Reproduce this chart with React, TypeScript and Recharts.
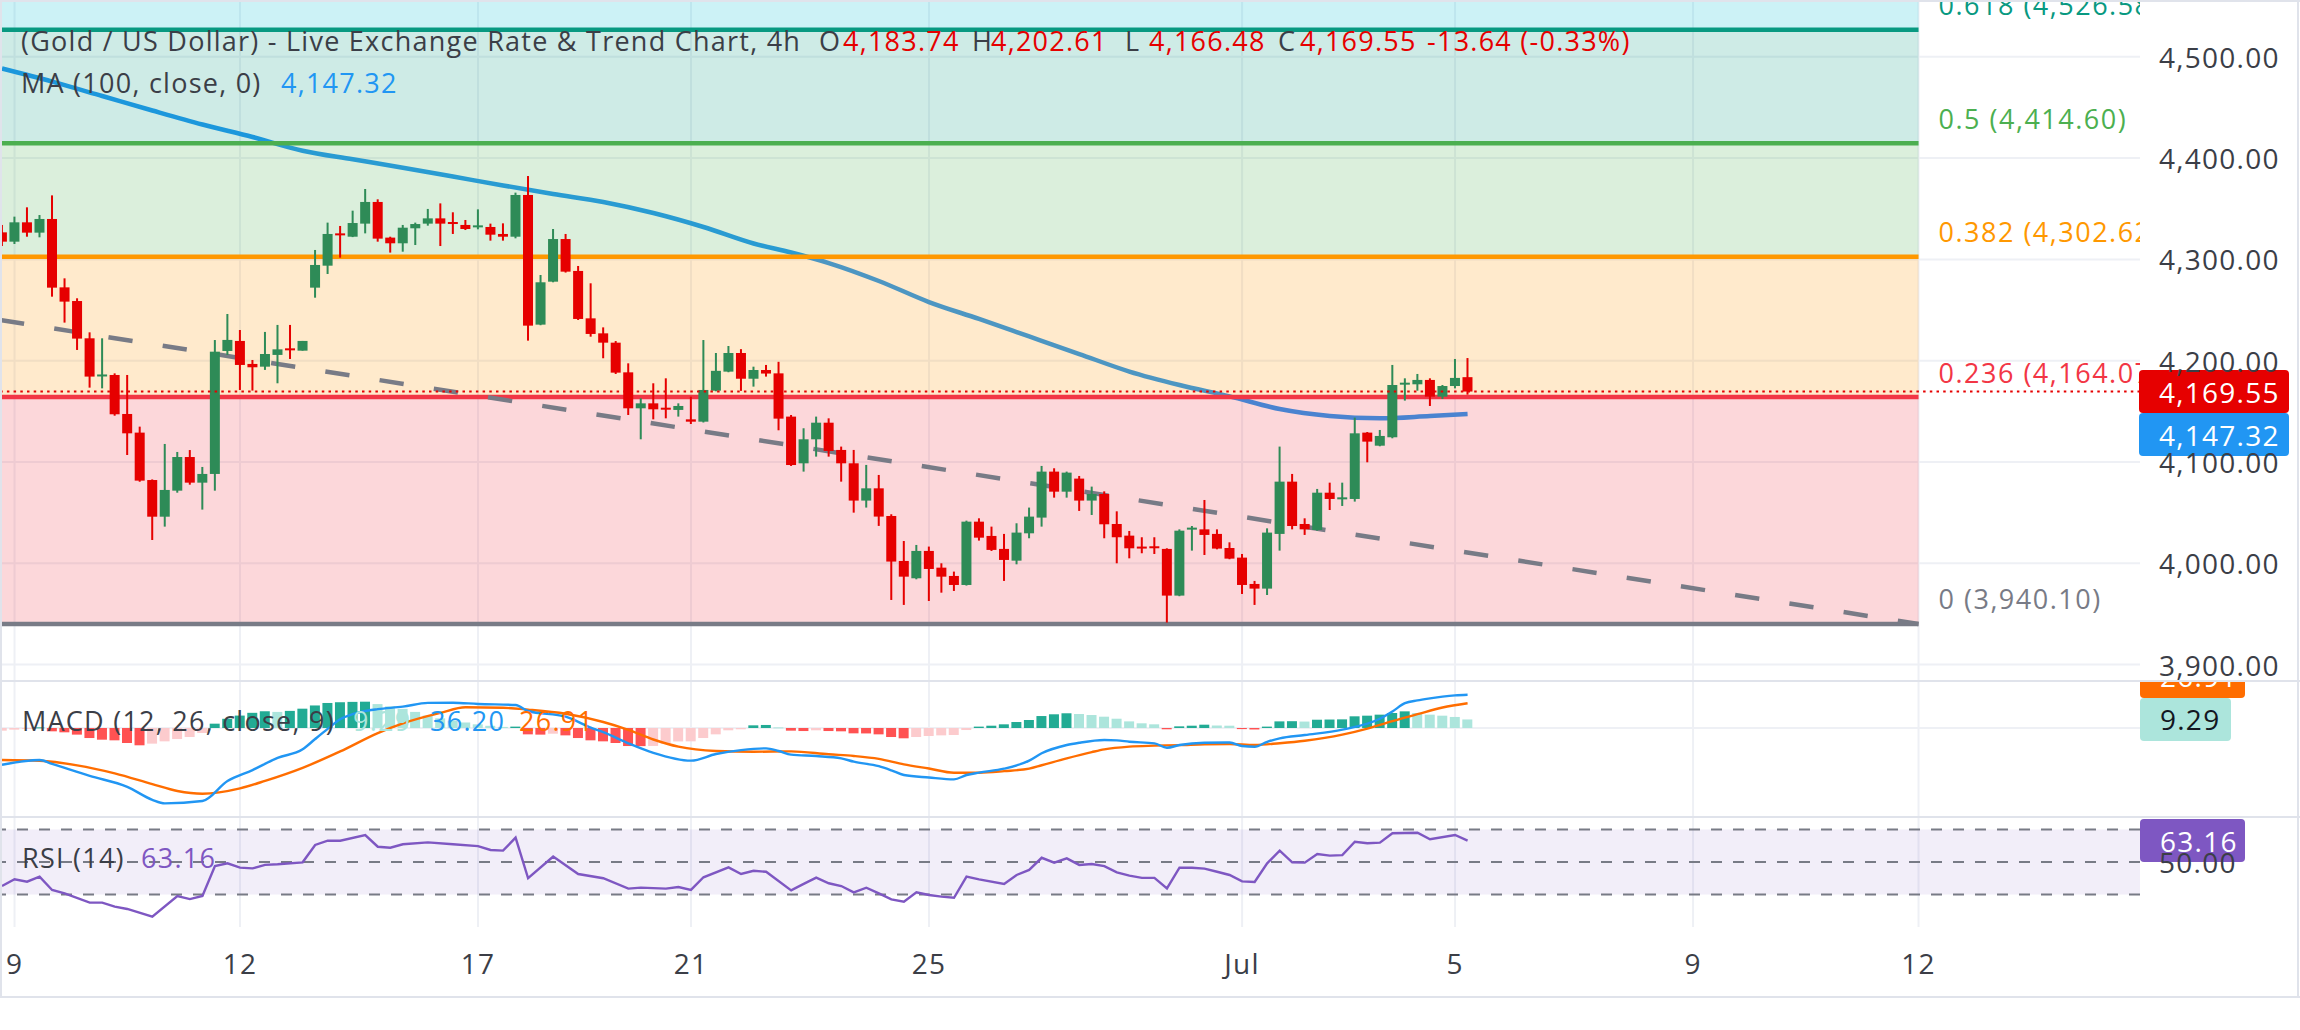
import React from 'react';
import {
  ComposedChart,
  Bar,
  Line,
  XAxis,
  YAxis,
  CartesianGrid,
  ReferenceLine,
  ReferenceArea,
} from 'recharts';

// ---------- layout ----------
const FONT = '"Open Sans", "Noto Sans", "DejaVu Sans", sans-serif';
const SPACING = 1.25;
const TEXT = '#3b3e47';
const GRID = '#eef0f5';
const FRAME = '#e0e3eb';
const UP = '#2e8b57';
const DOWN = '#e60000';
const W = 2300;
const AXIS_W = 160;
const PANE_W = W - AXIS_W;
const MAIN_H = 681;
const MACD_TOP = 681;
const MACD_H = 136;
const RSI_TOP = 817;
const RSI_H = 180;
const TIME_AXIS_H = 70;
const LABEL_X = PANE_W + 19;
const BODY_W = 10;

// x is the 4h candle index; the right side keeps empty future sessions
const X_DOMAIN: [number, number] = [-0.16, 170.68];
const PRICE_DOMAIN: [number, number] = [3883.8, 4556.07];
const MACD_DOMAIN: [number, number] = [-96.74, 51.09];
const RSI_DOMAIN: [number, number] = [10, 77.69];

// ---------- time axis ----------
const GRID_IDX = [1, 19, 38, 55, 74, 99, 116, 135, 153];
const GRID_LABELS = ['9', '12', '17', '21', '25', 'Jul', '5', '9', '12'];

// ---------- XAU/USD 4h candles ----------
const OPEN = [
  4326.7, 4317.5, 4336.6, 4326.4, 4339.9, 4272.4, 4258.9, 4222.1, 4185.9, 4185.9,
  4147.4, 4129.0, 4082.2, 4046.0, 4071.7, 4104.9, 4079.6, 4088.2, 4209.6, 4219.5,
  4196.8, 4194.1, 4205.7, 4212.2, 4209.9, 4272.1, 4293.8, 4325.7, 4322.4, 4335.3,
  4356.7, 4321.5, 4315.9, 4330.7, 4335.3, 4340.5, 4336.9, 4334.0, 4332.3, 4332.0,
  4325.1, 4322.4, 4363.6, 4235.6, 4278.0, 4320.1, 4288.6, 4241.8, 4227.0, 4217.8,
  4188.5, 4153.0, 4157.9, 4153.6, 4151.4, 4142.1, 4139.8, 4170.4, 4189.2, 4207.6,
  4182.2, 4190.8, 4187.5, 4144.8, 4098.7, 4122.4, 4138.8, 4111.9, 4098.7, 4061.9,
  4074.0, 4046.7, 4002.3, 3985.2, 4012.2, 3995.7, 3987.5, 3978.6, 4041.1, 4027.0,
  4014.2, 4002.6, 4029.6, 4045.1, 4090.5, 4070.7, 4083.6, 4061.9, 4068.4, 4038.8,
  4027.3, 4016.5, 4016.8, 4014.2, 3968.1, 4033.5, 4033.5, 4029.0, 4015.1, 4005.6,
  3979.6, 3975.0, 4029.0, 4080.6, 4038.8, 4032.9, 4069.7, 4064.5, 4063.5, 4129.0,
  4116.1, 4124.4, 4177.0, 4176.7, 4181.0, 4164.5, 4175.0, 4183.74,
];
const HIGH = [
  4334.0, 4342.2, 4351.4, 4343.8, 4363.2, 4281.3, 4261.6, 4228.0, 4222.1, 4187.5,
  4185.9, 4134.9, 4082.8, 4117.8, 4109.9, 4111.8, 4095.1, 4220.4, 4246.1, 4230.3,
  4200.7, 4228.4, 4235.3, 4235.3, 4219.5, 4309.3, 4336.3, 4333.0, 4348.1, 4369.5,
  4359.3, 4322.4, 4334.0, 4336.3, 4349.8, 4355.3, 4346.5, 4338.9, 4349.4, 4335.3,
  4335.6, 4365.9, 4382.3, 4284.6, 4330.0, 4325.1, 4293.5, 4276.4, 4232.9, 4219.4,
  4197.4, 4162.9, 4177.7, 4182.6, 4157.9, 4164.5, 4220.4, 4207.6, 4214.5, 4211.4,
  4194.1, 4195.8, 4198.9, 4146.4, 4133.3, 4144.8, 4143.1, 4115.2, 4111.9, 4097.1,
  4087.2, 4048.4, 4022.0, 4018.1, 4016.5, 4000.0, 3991.8, 4042.1, 4044.4, 4036.2,
  4029.0, 4039.5, 4055.0, 4096.1, 4093.8, 4090.5, 4086.2, 4075.7, 4071.0, 4051.3,
  4031.9, 4025.7, 4025.7, 4014.8, 4033.5, 4036.8, 4062.5, 4033.5, 4020.7, 4009.2,
  3982.6, 4034.5, 4115.2, 4088.2, 4044.4, 4073.4, 4079.6, 4079.6, 4143.8, 4129.6,
  4131.6, 4195.8, 4182.6, 4186.9, 4182.6, 4176.0, 4201.7, 4202.61,
];
const LOW = [
  4313.2, 4315.2, 4322.4, 4321.8, 4263.2, 4237.6, 4210.6, 4173.4, 4172.7, 4145.7,
  4106.9, 4080.5, 4023.0, 4036.2, 4069.7, 4077.6, 4053.0, 4071.7, 4205.7, 4171.1,
  4170.5, 4190.9, 4177.7, 4201.7, 4209.9, 4262.2, 4285.6, 4301.7, 4322.0, 4325.7,
  4317.5, 4306.7, 4307.6, 4314.2, 4333.3, 4313.2, 4325.1, 4329.0, 4329.7, 4318.5,
  4318.5, 4320.8, 4219.8, 4235.0, 4277.4, 4287.0, 4240.2, 4223.7, 4202.4, 4186.9,
  4146.4, 4122.4, 4142.1, 4143.1, 4144.8, 4137.5, 4139.0, 4169.8, 4188.6, 4170.2,
  4174.4, 4184.3, 4131.3, 4096.1, 4090.5, 4105.3, 4105.3, 4080.6, 4050.0, 4055.0,
  4036.9, 3963.8, 3958.9, 3984.2, 3962.8, 3971.0, 3972.7, 3978.0, 4022.4, 4012.2,
  3982.6, 3999.0, 4024.7, 4036.2, 4064.8, 4064.8, 4051.7, 4047.7, 4024.7, 4000.0,
  4004.9, 4009.9, 4009.2, 3941.5, 3967.5, 4012.5, 4008.2, 4013.8, 4004.0, 3969.7,
  3958.9, 3968.7, 4012.5, 4033.5, 4028.0, 4032.2, 4052.6, 4056.6, 4060.9, 4099.7,
  4115.5, 4123.4, 4160.6, 4170.4, 4155.3, 4162.2, 4172.7, 4166.48,
];
const CLOSE = [
  4317.5, 4336.6, 4326.4, 4339.9, 4272.1, 4258.3, 4221.8, 4184.3, 4186.4, 4147.1,
  4128.3, 4081.6, 4046.0, 4072.4, 4104.9, 4079.6, 4088.2, 4208.9, 4220.5, 4195.8,
  4193.5, 4206.6, 4211.2, 4210.6, 4219.5, 4294.5, 4325.1, 4324.1, 4335.9, 4356.7,
  4320.5, 4315.9, 4331.3, 4334.9, 4340.5, 4335.3, 4335.3, 4330.0, 4333.6, 4324.4,
  4322.4, 4363.6, 4234.6, 4277.4, 4320.1, 4287.9, 4241.2, 4226.4, 4217.8, 4188.2,
  4153.0, 4157.9, 4152.0, 4152.0, 4155.3, 4139.8, 4171.1, 4190.0, 4207.6, 4182.2,
  4190.8, 4187.3, 4142.8, 4097.0, 4122.4, 4138.8, 4110.9, 4098.7, 4061.9, 4074.0,
  4046.1, 4001.7, 3986.8, 4012.2, 3994.4, 3986.8, 3978.6, 4041.1, 4025.3, 4013.2,
  4003.3, 4030.3, 4046.1, 4090.5, 4070.7, 4089.5, 4061.9, 4068.4, 4038.5, 4025.7,
  4014.8, 4014.8, 4015.2, 3968.1, 4032.2, 4035.2, 4028.0, 4014.5, 4004.6, 3978.6,
  3975.0, 4030.3, 4080.6, 4036.8, 4033.5, 4069.7, 4063.5, 4065.1, 4128.3, 4120.1,
  4125.7, 4176.0, 4178.3, 4181.0, 4164.5, 4175.0, 4183.0, 4169.55,
];

// last bar readout
const LAST = { o: 4183.74, h: 4202.61, l: 4166.48, c: 4169.55, chg: -13.64, pct: -0.33 };

// ---------- MA(100, close) ----------
const MA_IDX = [0, 4, 8, 12, 16, 20, 24, 28, 32, 36, 40, 44, 48, 52, 56, 60, 63, 66, 70, 74, 78, 82, 86, 90, 94, 98, 102, 106, 110, 114, 117];
const MA_VAL = [
  4488.4, 4475.5, 4461.3, 4447.0, 4433.2, 4420.8, 4407.3, 4398.8, 4390.5, 4381.8,
  4373.0, 4364.6, 4356.7, 4345.8, 4332.0, 4315.7, 4306.8, 4296.4, 4278.7, 4257.9,
  4241.2, 4223.9, 4206.6, 4189.3, 4176.0, 4164.8, 4152.3, 4145.4, 4143.1, 4145.4, 4147.32,
];
const MA_LAST = 4147.32;

// ---------- Fibonacci retracement ----------
const FIB_RATIOS = ['0', '0.236', '0.382', '0.5', '0.618'];
const FIB_PRICES = [3940.1, 4164.07, 4302.62, 4414.6, 4526.58];
const FIB_COLORS = ['#787b86', '#f23645', '#ff9800', '#4caf50', '#089981'];
const FIB_786 = 4685.99;
const FIB_786_COLOR = '#00bcd4';
const FIB_END = 153;

// ---------- falling trend line ----------
const TREND_IDX = [X_DOMAIN[0], 153];
const TREND_VAL = [4240.2, 3940.1];

const PRICE_TICKS = [3900, 4000, 4100, 4200, 4300, 4400, 4500];

// ---------- MACD (12, 26, close, 9) ----------
const MACD_IDX = [
  0, 3, 4, 7, 10, 12, 13, 16, 18, 20, 22, 24, 25, 26, 27, 28, 29, 30, 32, 34,
  36, 38, 41, 42, 45, 47, 48, 50, 52, 55, 57, 59, 61, 62, 63, 65, 67, 68, 70, 71,
  72, 74, 76, 77, 78, 80, 82, 83, 85, 86, 88, 89, 90, 92, 93, 94, 96, 98, 99, 100,
  101, 102, 104, 107, 110, 111, 112, 113, 114, 115, 116, 117,
];
const MACD_VAL = [
  -40, -34.8, -39, -52, -64, -78, -81.9, -79.3, -57.6, -45.7,
  -32.5, -23.2, -12, -1, 9.5, 15, 18.5, 20.5, 23.2, 27.3,
  27.5, 26.1, 25.0, 18.5, 12.3, 0.5, -4.5, -16.6, -27.0, -35.5,
  -28.3, -24, -22.1, -25.0, -29, -30.5, -33, -36.6, -41.5, -46,
  -51.1, -53.8, -55.8, -51.1, -48.5, -44.2, -35.5, -27.5, -18.5, -16,
  -13, -13.4, -14.9, -16.7, -21.4, -18.5, -16, -15.8, -19.5, -20.3,
  -15, -11.2, -7.6, -1.8, 10, 18, 27, 30, 32.2, 34.1,
  35.5, 36.2,
];
const SIGNAL_IDX = [
  0, 3, 6, 9, 12, 14, 16, 19, 21, 24, 27, 30, 32, 35, 37, 40, 42, 45, 48, 50,
  52, 54, 57, 60, 63, 66, 68, 70, 72, 74, 76, 78, 80, 82, 83, 85, 87, 88, 90, 92,
  94, 96, 98, 100, 102, 104, 107, 109, 111, 113, 115, 117,
];
const SIGNAL_VAL = [
  -34.8, -35.6, -40.6, -49.3, -61, -68.5, -71.5, -65.6, -57.5, -43.3,
  -25.5, -5.5, 5.1, 16.5, 22.5, 22.0, 20.0, 15.5, 6.5, -2.0,
  -12.5, -20.3, -25.0, -25.8, -25.4, -28.6, -30.4, -33.5, -39.5, -44,
  -48.6, -48.6, -46.9, -44.2, -40.5, -33, -26.2, -23.2, -20.2, -19.2,
  -18.6, -17.7, -17.4, -18.5, -16.5, -13.8, -7.2, -0.6, 7.5, 15,
  22.3, 26.91,
];
const HIST = [
  -2.9, -1.8, -0.8, 0.7, -3.6, -4.7, -7.2, -10.9, -12.7, -13.4,
  -16.3, -18.8, -17.0, -14.5, -12.0, -9.8, -5.4, 4.7, 10.0, 13.5,
  16.5, 18.2, 17.5, 18.6, 21.0, 24.5, 27.2, 28.0, 28.4, 28.6,
  26.0, 23.5, 20.8, 17.5, 13.5, 10.5, 8.0, 6.0, 4.0, 2.4,
  1.2, 1.5, -6.9, -7.2, -6.2, -8.0, -10.9, -13.4, -14.5, -16.3,
  -19.6, -19.7, -19.5, -17.0, -14.6, -14.5, -10.9, -6.9, -2.5, -1.4,
  2.9, 3.3, 0.7, -2.9, -3.3, -2.5, -3.3, -3.6, -5.8, -5.9,
  -6.9, -9.8, -11.2, -9.8, -8.7, -8.0, -7.6, -2.2, 1.5, 2.5,
  4.0, 6.5, 8.7, 13.0, 14.9, 16.0, 15.2, 14.1, 12.3, 10.1,
  7.2, 5.1, 4.0, -1.4, 1.8, 2.5, 3.6, 2.7, 2.5, -1.2,
  -1.6, 1.5, 7.2, 7.4, 7.0, 9.0, 9.2, 9.4, 12.7, 13.4,
  14.5, 16.3, 18.1, 16.3, 14.5, 13.4, 12.0, 9.29,
];
const MACD_LAST = 36.2;
const SIGNAL_LAST = 26.91;
const HIST_LAST = 9.29;

// ---------- RSI (14) ----------
const RSI_IDX = [
  0, 1, 2, 3, 4, 5, 7, 8, 9, 10, 12, 14, 15, 16, 17, 18, 19, 20, 21, 22,
  24, 25, 26, 27, 29, 30, 31, 32, 34, 36, 38, 39, 40, 41, 42, 44, 46, 48, 50, 51,
  53, 54, 55, 56, 58, 59, 60, 61, 63, 64, 65, 66, 67, 68, 69, 70, 71, 72, 73, 74,
  75, 76, 77, 78, 80, 81, 82, 83, 84, 85, 86, 87, 88, 89, 90, 91, 92, 93, 94, 95,
  96, 97, 98, 99, 100, 101, 102, 103, 104, 105, 106, 107, 108, 109, 110, 111, 113, 114, 116, 117,
];
const RSI_VAL = [
  35.2, 39.4, 37.9, 41.0, 32.8, 30.7, 25.0, 25.0, 22.5, 21.1,
  16.3, 29.1, 27.2, 29.1, 47.5, 49.2, 46.5, 46.1, 48.2, 48.6,
  49.8, 60.5, 63.1, 63.1, 66.6, 59.4, 58.8, 60.9, 62.1, 60.9,
  59.8, 57.4, 57.0, 65.0, 40.0, 53.3, 42.6, 40.0, 33.6, 34.2,
  33.6, 34.6, 32.8, 40.6, 46.7, 42.6, 44.6, 44.0, 32.5, 36.5,
  40.4, 36.9, 35.2, 31.3, 34.2, 30.7, 27.0, 25.6, 31.3, 29.7,
  28.7, 28.0, 41.0, 39.3, 36.5, 42.0, 45.1, 52.6, 49.6, 52.2,
  48.2, 48.8, 47.5, 43.6, 41.6, 40.2, 40.2, 33.8, 46.5, 46.5,
  45.9, 44.0, 42.0, 38.1, 37.7, 49.2, 57.0, 49.8, 49.6, 54.9,
  53.9, 54.2, 62.5, 61.5, 61.9, 67.7, 68.0, 64.0, 66.6, 63.16,
];
const RSI_LAST = 63.16;
const RSI_BANDS = [70, 50, 30];

// ---------- tables built for the library ----------
const CANDLES = OPEN.map((o, i) => ({
  i,
  o,
  h: HIGH[i],
  l: LOW[i],
  c: CLOSE[i],
  range: [LOW[i], HIGH[i]],
}));
const pts = (idx: number[], val: number[]) => idx.map((i, k) => ({ i, v: val[k] }));
const MA_POINTS = pts(MA_IDX, MA_VAL);
const TREND_POINTS = pts(TREND_IDX, TREND_VAL);
const MACD_POINTS = pts(MACD_IDX, MACD_VAL);
const SIGNAL_POINTS = pts(SIGNAL_IDX, SIGNAL_VAL);
const RSI_POINTS = pts(RSI_IDX, RSI_VAL);
const HIST_DATA = HIST.map((h, i) => ({ i, h }));

const fmt = (v: number) =>
  v.toLocaleString('en-US', { minimumFractionDigits: 2, maximumFractionDigits: 2 });

// histogram shade: strong while the bar keeps growing in its own direction
const histColor = (k: number) => {
  const h = HIST[k];
  const prev = k > 0 ? HIST[k - 1] : h - 1;
  if (h >= 0) return h > prev ? '#22ab94' : '#ace5dc';
  return h > prev ? '#fccbcd' : '#ff5252';
};

// ---------- shapes ----------
const Candle = (props: any) => {
  const { x, y, width, height, payload } = props;
  if (x == null || y == null || !payload) return null;
  const top = Math.min(y, y + height);
  const bot = Math.max(y, y + height);
  const span = payload.h - payload.l;
  const k = span > 0 ? (bot - top) / span : 0;
  const at = (v: number) => top + (payload.h - v) * k;
  const color = payload.c >= payload.o ? UP : DOWN;
  const bTop = at(Math.max(payload.o, payload.c));
  const bBot = at(Math.min(payload.o, payload.c));
  const cx = x + width / 2;
  return (
    <g>
      <rect x={cx - 1} y={top} width={2} height={bot - top} fill={color} />
      <rect x={cx - BODY_W / 2} y={bTop} width={BODY_W} height={Math.max(bBot - bTop, 2)} fill={color} />
    </g>
  );
};

const HistBar = (props: any) => {
  const { x, y, width, height, payload } = props;
  if (x == null || y == null || !payload) return null;
  const top = Math.min(y, y + height);
  const cx = x + width / 2;
  return (
    <rect
      x={cx - BODY_W / 2}
      y={top}
      width={BODY_W}
      height={Math.max(Math.abs(height), 1)}
      fill={histColor(payload.i)}
    />
  );
};

const Tag = ({ x, y, w, fill, color, text }: any) => (
  <g>
    <rect x={x} y={y - 21.5} width={w} height={43} rx={4} fill={fill} />
    <text
      x={x + 20}
      y={y}
      dominantBaseline="central"
      fontSize={28}
      fill={color}
      fontFamily={FONT}
      letterSpacing={SPACING}
    >
      {text}
    </text>
  </g>
);

const PriceTags = (props: any) => {
  const vb = props.viewBox || {};
  const y = vb.y ?? 0;
  const x = (vb.x ?? 0) + (vb.width ?? PANE_W) - 1;
  return (
    <g>
      <Tag x={x} y={y} w={150} fill={DOWN} color="#ffffff" text={fmt(LAST.c)} />
      <Tag x={x} y={y + 43} w={150} fill="#2196f3" color="#ffffff" text={fmt(MA_LAST)} />
    </g>
  );
};

const MacdTags = (props: any) => {
  const vb = props.viewBox || {};
  const y = vb.y ?? 0;
  const x = (vb.x ?? 0) + (vb.width ?? PANE_W);
  return (
    <g>
      <Tag x={x} y={y - 86} w={105} fill="#2196f3" color="#ffffff" text={fmt(MACD_LAST)} />
      <Tag x={x} y={y - 43} w={105} fill="#ff6d00" color="#ffffff" text={fmt(SIGNAL_LAST)} />
      <Tag x={x} y={y} w={91} fill="#ace5dc" color="#131722" text={fmt(HIST_LAST)} />
    </g>
  );
};

const RsiTag = (props: any) => {
  const vb = props.viewBox || {};
  const y = vb.y ?? 0;
  const x = (vb.x ?? 0) + (vb.width ?? PANE_W);
  return <Tag x={x} y={y} w={105} fill="#7e57c2" color="#ffffff" text={fmt(RSI_LAST)} />;
};

const fibLabel = (k: number) => (props: any) => {
  const vb = props.viewBox || {};
  const y = (vb.y ?? 0) - 25;
  const x = (vb.x ?? 0) + (vb.width ?? 0) + 20;
  const id = `fib-clip-${k}`;
  return (
    <g>
      <defs>
        <clipPath id={id}>
          <rect x={0} y={0} width={PANE_W} height={MAIN_H} />
        </clipPath>
      </defs>
      <text
        x={x}
        y={y}
        dominantBaseline="central"
        fontSize={27}
        fill={FIB_COLORS[k]}
        fontFamily={FONT}
        letterSpacing={1.5}
        clipPath={`url(#${id})`}
      >
        {`${FIB_RATIOS[k]} (${fmt(FIB_PRICES[k])})`}
      </text>
    </g>
  );
};

const PriceTick = (p: any) => (
  <text
    x={LABEL_X}
    y={p.y}
    dominantBaseline="central"
    fontSize={28}
    fill={TEXT}
    fontFamily={FONT}
    letterSpacing={SPACING}
  >
    {fmt(p.payload.value)}
  </text>
);

const TimeTick = (p: any) => {
  const k = GRID_IDX.indexOf(p.payload.value);
  return (
    <text
      x={p.x}
      y={p.y + 36}
      textAnchor="middle"
      dominantBaseline="central"
      fontSize={28}
      fill={TEXT}
      fontFamily={FONT}
      letterSpacing={SPACING}
    >
      {GRID_LABELS[k]}
    </text>
  );
};

const verticalGrid = () =>
  GRID_IDX.map((g) => (
    <ReferenceLine key={`vg-${g}`} x={g} stroke={GRID} strokeWidth={2} zIndex={-90} />
  ));

// ---------- panes ----------
function MainPane() {
  const zoneBounds = [...FIB_PRICES, FIB_786];
  const zoneColors = [...FIB_COLORS.slice(1), FIB_786_COLOR];
  return (
    <ComposedChart width={W} height={MAIN_H} data={CANDLES} margin={{ top: 0, right: 0, bottom: 0, left: 0 }}>
      <XAxis dataKey="i" type="number" domain={X_DOMAIN} allowDataOverflow hide />
      <YAxis
        orientation="right"
        width={AXIS_W}
        domain={PRICE_DOMAIN}
        allowDataOverflow
        ticks={PRICE_TICKS}
        interval={0}
        axisLine={false}
        tickLine={false}
        tick={PriceTick}
      />
      <CartesianGrid vertical={false} stroke={GRID} strokeWidth={2} />
      {verticalGrid()}
      <Line
        data={MA_POINTS}
        dataKey="v"
        type="monotone"
        stroke="#2196f3"
        strokeWidth={4.5}
        dot={false}
        activeDot={false}
        isAnimationActive={false}
        zIndex={50}
      />
      {zoneColors.map((c, k) => (
        <ReferenceArea
          key={`zone-${k}`}
          x1={X_DOMAIN[0]}
          x2={FIB_END}
          y1={zoneBounds[k]}
          y2={zoneBounds[k + 1]}
          fill={c}
          fillOpacity={0.2}
          stroke="none"
          ifOverflow="hidden"
          zIndex={60}
        />
      ))}
      {FIB_PRICES.map((p, k) => (
        <ReferenceLine
          key={`fib-${k}`}
          segment={[
            { x: X_DOMAIN[0], y: p },
            { x: FIB_END, y: p },
          ]}
          stroke={FIB_COLORS[k]}
          strokeWidth={4.5}
          label={fibLabel(k)}
          zIndex={70}
        />
      ))}
      <Line
        data={TREND_POINTS}
        dataKey="v"
        type="linear"
        stroke="#787b86"
        strokeWidth={4.5}
        strokeDasharray="24.4 30.5"
        dot={false}
        activeDot={false}
        isAnimationActive={false}
        zIndex={80}
      />
      <Bar dataKey="range" barSize={BODY_W} shape={Candle} isAnimationActive={false} zIndex={300} />
      <ReferenceLine
        y={LAST.c}
        stroke={DOWN}
        strokeWidth={2}
        strokeDasharray="2.5 4.2"
        label={PriceTags}
        zIndex={350}
      />
    </ComposedChart>
  );
}

function MacdPane() {
  return (
    <ComposedChart width={W} height={MACD_H} data={HIST_DATA} margin={{ top: 0, right: 0, bottom: 0, left: 0 }}>
      <XAxis dataKey="i" type="number" domain={X_DOMAIN} allowDataOverflow hide />
      <YAxis orientation="right" width={AXIS_W} domain={MACD_DOMAIN} allowDataOverflow tick={false} axisLine={false} tickLine={false} />
      {verticalGrid()}
      <ReferenceLine y={0} stroke={GRID} strokeWidth={2} zIndex={-80} />
      <Bar dataKey="h" barSize={BODY_W} shape={HistBar} isAnimationActive={false} />
      <Line data={SIGNAL_POINTS} dataKey="v" type="monotone" stroke="#ff6d00" strokeWidth={2.4} dot={false} activeDot={false} isAnimationActive={false} />
      <Line data={MACD_POINTS} dataKey="v" type="monotone" stroke="#2196f3" strokeWidth={2.4} dot={false} activeDot={false} isAnimationActive={false} />
      <ReferenceLine y={HIST_LAST} strokeOpacity={0} label={MacdTags} zIndex={900} />
    </ComposedChart>
  );
}

function RsiPane() {
  return (
    <ComposedChart width={W} height={RSI_H} margin={{ top: 0, right: 0, bottom: 0, left: 0 }}>
      <XAxis
        dataKey="i"
        type="number"
        domain={X_DOMAIN}
        allowDataOverflow
        ticks={GRID_IDX}
        interval={0}
        height={TIME_AXIS_H}
        axisLine={false}
        tickLine={false}
        tickSize={0}
        tickMargin={0}
        tick={TimeTick}
      />
      <YAxis
        orientation="right"
        width={AXIS_W}
        domain={RSI_DOMAIN}
        allowDataOverflow
        ticks={[50]}
        interval={0}
        axisLine={false}
        tickLine={false}
        tick={PriceTick}
      />
      {verticalGrid()}
      <ReferenceArea y1={RSI_BANDS[2]} y2={RSI_BANDS[0]} fill="#7e57c2" fillOpacity={0.1} stroke="none" ifOverflow="hidden" />
      {RSI_BANDS.map((v) => (
        <ReferenceLine key={`band-${v}`} y={v} stroke="#787b86" strokeWidth={2} strokeDasharray="11 11" />
      ))}
      <Line data={RSI_POINTS} dataKey="v" type="linear" stroke="#7e57c2" strokeWidth={2.4} dot={false} activeDot={false} isAnimationActive={false} />
      <ReferenceLine y={RSI_LAST} strokeOpacity={0} label={RsiTag} zIndex={900} />
    </ComposedChart>
  );
}

// ---------- legends ----------
const T = ({ x, y, color = TEXT, size = 27, children }: any) => (
  <text
    x={x}
    y={y}
    dominantBaseline="central"
    fontSize={size}
    fill={color}
    fontFamily={FONT}
    letterSpacing={SPACING}
  >
    {children}
  </text>
);

function Legends() {
  return (
    <svg width={W} height={1030} style={{ position: 'absolute', left: 0, top: 0, pointerEvents: 'none' }}>
      <T x={21} y={40}>(Gold / US Dollar) - Live Exchange Rate &amp; Trend Chart, 4h</T>
      <T x={819} y={40}>O</T>
      <T x={843} y={40} color={DOWN}>{fmt(LAST.o)}</T>
      <T x={972} y={40}>H</T>
      <T x={991} y={40} color={DOWN}>{fmt(LAST.h)}</T>
      <T x={1125} y={40}>L</T>
      <T x={1149} y={40} color={DOWN}>{fmt(LAST.l)}</T>
      <T x={1278} y={40}>C</T>
      <T x={1300} y={40} color={DOWN}>{fmt(LAST.c)}</T>
      <T x={1427} y={40} color={DOWN}>{`${LAST.chg.toFixed(2)} (${LAST.pct.toFixed(2)}%)`}</T>

      <T x={21} y={82}>MA (100, close, 0)</T>
      <T x={281} y={82} color="#2196f3">{fmt(MA_LAST)}</T>

      <T x={22} y={720}>MACD (12, 26, close, 9)</T>
      <T x={353} y={720} color="#ace5dc">{fmt(HIST_LAST)}</T>
      <T x={430} y={720} color="#2196f3">{fmt(MACD_LAST)}</T>
      <T x={519} y={720} color="#ff6d00">{fmt(SIGNAL_LAST)}</T>

      <T x={22} y={857}>RSI (14)</T>
      <T x={141} y={857} color="#7e57c2">{fmt(RSI_LAST)}</T>
    </svg>
  );
}

function Frame() {
  const line = (style: React.CSSProperties) => (
    <div style={{ position: 'absolute', background: FRAME, ...style }} />
  );
  return (
    <>
      {line({ left: 0, top: 0, width: W, height: 2 })}
      {line({ left: 0, top: MACD_TOP - 1, width: W, height: 2 })}
      {line({ left: 0, top: RSI_TOP - 1, width: W, height: 2 })}
      {line({ left: 0, top: 996, width: W, height: 2 })}
      {line({ left: 0, top: 0, width: 2, height: 998 })}
      {line({ left: W - 3, top: 0, width: 2, height: 998 })}
    </>
  );
}

export default function App() {
  return (
    <div
      style={{
        position: 'absolute',
        left: 0,
        top: 0,
        width: W,
        height: 1030,
        background: '#ffffff',
        overflow: 'hidden',
        fontFamily: FONT,
      }}
    >
      <div style={{ position: 'absolute', left: 0, top: 0, width: W, height: MAIN_H, overflow: 'hidden' }}>
        <MainPane />
      </div>
      <div style={{ position: 'absolute', left: 0, top: MACD_TOP, width: W, height: MACD_H, overflow: 'hidden' }}>
        <MacdPane />
      </div>
      <div style={{ position: 'absolute', left: 0, top: RSI_TOP, width: W, height: RSI_H, overflow: 'hidden' }}>
        <RsiPane />
      </div>
      <Legends />
      <Frame />
    </div>
  );
}
